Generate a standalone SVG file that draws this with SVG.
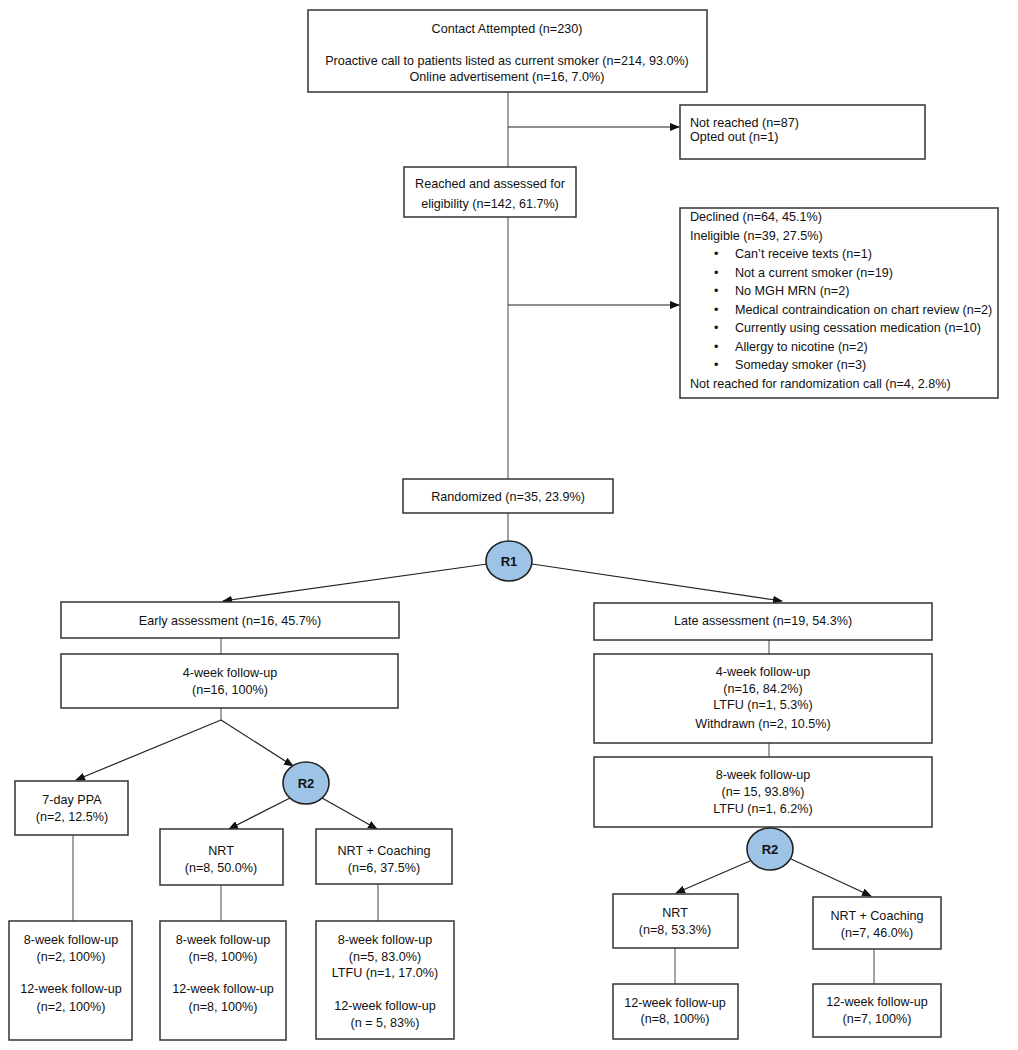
<svg xmlns="http://www.w3.org/2000/svg" width="1018" height="1050" viewBox="0 0 1018 1050">
<defs>
<marker id="arr" markerWidth="10" markerHeight="8" refX="9" refY="4" orient="auto" markerUnits="userSpaceOnUse">
<path d="M0,0 L10,4 L0,8 Z" fill="#111"/>
</marker>
<style>
.box{fill:#fff;stroke:#333;stroke-width:1.5}
.rnd{fill:#9dc3e6;stroke:#222;stroke-width:1.6}
.t{font-family:"Liberation Sans",Arial,sans-serif;font-size:12.6px;fill:#111}
.c{text-anchor:middle}
.b{font-family:"Liberation Sans",Arial,sans-serif;font-size:13px;font-weight:bold;fill:#111;text-anchor:middle}
.ln{stroke:#666;stroke-width:1.2;fill:none}
.ar{stroke:#222;stroke-width:1.2;fill:none;marker-end:url(#arr)}
</style>
</defs>
<rect width="1018" height="1050" fill="#fff"/>

<g id="connectors">
<line class="ln" x1="508" y1="92" x2="508" y2="167"/>
<line class="ar" x1="508" y1="127" x2="679" y2="127"/>
<line class="ln" x1="508" y1="217" x2="508" y2="479"/>
<line class="ar" x1="508" y1="305" x2="679" y2="305"/>
<line class="ln" x1="508" y1="513" x2="508" y2="541"/>
<line class="ar" x1="487" y1="564" x2="223" y2="601"/>
<line class="ar" x1="532" y1="564" x2="782" y2="601"/>
<line class="ln" x1="221" y1="638" x2="221" y2="654"/>
<line class="ln" x1="221" y1="708" x2="221" y2="720"/>
<line class="ar" x1="221" y1="720" x2="76" y2="780"/>
<line class="ar" x1="221" y1="720" x2="293" y2="766"/>
<line class="ar" x1="290" y1="798" x2="229" y2="829"/>
<line class="ar" x1="322" y1="798" x2="377" y2="829"/>
<line class="ln" x1="73" y1="835" x2="73" y2="921"/>
<line class="ln" x1="221" y1="885" x2="221" y2="921"/>
<line class="ln" x1="378" y1="884" x2="378" y2="921"/>
<line class="ln" x1="769" y1="640" x2="769" y2="654"/>
<line class="ln" x1="769" y1="743" x2="769" y2="757"/>
<line class="ln" x1="769" y1="827" x2="769" y2="829"/>
<line class="ar" x1="750" y1="861" x2="676" y2="893"/>
<line class="ar" x1="791" y1="859" x2="871" y2="896"/>
<line class="ln" x1="675" y1="948" x2="675" y2="984"/>
<line class="ln" x1="874" y1="949" x2="874" y2="984"/>
</g>

<g id="contact">
<rect class="box" x="308" y="10" width="399" height="82"/>
<text class="t c" x="507" y="33">Contact Attempted (n=230)</text>
<text class="t c" x="507" y="65">Proactive call to patients listed as current smoker (n=214, 93.0%)</text>
<text class="t c" x="507" y="81">Online advertisement (n=16, 7.0%)</text>
</g>

<g id="notreached">
<rect class="box" x="680" y="105" width="245" height="54"/>
<text class="t" x="690" y="127">Not reached (n=87)</text>
<text class="t" x="690" y="141">Opted out (n=1)</text>
</g>

<g id="reached">
<rect class="box" x="404" y="167" width="172" height="50"/>
<text class="t c" x="490" y="188">Reached and assessed for</text>
<text class="t c" x="490" y="208">eligibility (n=142, 61.7%)</text>
</g>

<g id="declined">
<rect class="box" x="680" y="208" width="318" height="190"/>
<text class="t" x="690" y="221">Declined (n=64, 45.1%)</text>
<text class="t" x="690" y="239.5">Ineligible (n=39, 27.5%)</text>
<text class="t" x="714" y="258">•</text><text class="t" x="735" y="258">Can’t receive texts (n=1)</text>
<text class="t" x="714" y="276.5">•</text><text class="t" x="735" y="276.5">Not a current smoker (n=19)</text>
<text class="t" x="714" y="295">•</text><text class="t" x="735" y="295">No MGH MRN (n=2)</text>
<text class="t" x="714" y="313.5">•</text><text class="t" x="735" y="313.5">Medical contraindication on chart review (n=2)</text>
<text class="t" x="714" y="332">•</text><text class="t" x="735" y="332">Currently using cessation medication (n=10)</text>
<text class="t" x="714" y="350.5">•</text><text class="t" x="735" y="350.5">Allergy to nicotine (n=2)</text>
<text class="t" x="714" y="369">•</text><text class="t" x="735" y="369">Someday smoker (n=3)</text>
<text class="t" x="690" y="387.5">Not reached for randomization call (n=4, 2.8%)</text>
</g>

<g id="randomized">
<rect class="box" x="403" y="479" width="210" height="34"/>
<text class="t c" x="508" y="501">Randomized (n=35, 23.9%)</text>
</g>

<g id="r1">
<ellipse class="rnd" cx="509" cy="561" rx="23" ry="20"/>
<text class="b" x="509" y="566">R1</text>
</g>

<g id="early">
<rect class="box" x="61" y="602" width="338" height="36"/>
<text class="t c" x="230" y="624.5">Early assessment (n=16, 45.7%)</text>
</g>

<g id="early4wk">
<rect class="box" x="61" y="654" width="337" height="54"/>
<text class="t c" x="230" y="676.5">4-week follow-up</text>
<text class="t c" x="230" y="693.5">(n=16, 100%)</text>
</g>

<g id="ppa">
<rect class="box" x="15" y="781" width="113" height="54"/>
<text class="t c" x="72" y="803.5">7-day PPA</text>
<text class="t c" x="72" y="820.5">(n=2, 12.5%)</text>
</g>

<g id="r2a">
<ellipse class="rnd" cx="306" cy="783" rx="23" ry="21"/>
<text class="b" x="306" y="788">R2</text>
</g>

<g id="nrtA">
<rect class="box" x="160" y="829" width="123" height="56"/>
<text class="t c" x="221" y="854.5">NRT</text>
<text class="t c" x="221" y="871.5">(n=8, 50.0%)</text>
</g>

<g id="nrtcA">
<rect class="box" x="316" y="829" width="136" height="55"/>
<text class="t c" x="384" y="854.5">NRT + Coaching</text>
<text class="t c" x="384" y="871.5">(n=6, 37.5%)</text>
</g>

<g id="fuPPA">
<rect class="box" x="9" y="921" width="123" height="119"/>
<text class="t c" x="71" y="943.5">8-week follow-up</text>
<text class="t c" x="71" y="960.5">(n=2, 100%)</text>
<text class="t c" x="71" y="992.5">12-week follow-up</text>
<text class="t c" x="71" y="1010.5">(n=2, 100%)</text>
</g>

<g id="fuNRTA">
<rect class="box" x="160" y="921" width="126" height="119"/>
<text class="t c" x="223" y="943.5">8-week follow-up</text>
<text class="t c" x="223" y="960.5">(n=8, 100%)</text>
<text class="t c" x="223" y="992.5">12-week follow-up</text>
<text class="t c" x="223" y="1010.5">(n=8, 100%)</text>
</g>

<g id="fuNRTCA">
<rect class="box" x="316" y="921" width="138" height="118"/>
<text class="t c" x="385" y="943.5">8-week follow-up</text>
<text class="t c" x="385" y="960.5">(n=5, 83.0%)</text>
<text class="t c" x="385" y="976.5">LTFU (n=1, 17.0%)</text>
<text class="t c" x="385" y="1009.5">12-week follow-up</text>
<text class="t c" x="385" y="1026.5">(n = 5, 83%)</text>
</g>

<g id="late">
<rect class="box" x="594" y="603" width="338" height="37"/>
<text class="t c" x="763" y="624.5">Late assessment (n=19, 54.3%)</text>
</g>

<g id="late4wk">
<rect class="box" x="594" y="654" width="338" height="89"/>
<text class="t c" x="763" y="675.5">4-week follow-up</text>
<text class="t c" x="763" y="692.5">(n=16, 84.2%)</text>
<text class="t c" x="763" y="708.5">LTFU (n=1, 5.3%)</text>
<text class="t c" x="763" y="727.5">Withdrawn (n=2, 10.5%)</text>
</g>

<g id="late8wk">
<rect class="box" x="594" y="757" width="338" height="70"/>
<text class="t c" x="763" y="778.5">8-week follow-up</text>
<text class="t c" x="763" y="795.5">(n= 15, 93.8%)</text>
<text class="t c" x="763" y="812.5">LTFU (n=1, 6.2%)</text>
</g>

<g id="r2b">
<ellipse class="rnd" cx="770" cy="849" rx="23" ry="21"/>
<text class="b" x="770" y="854">R2</text>
</g>

<g id="nrtB">
<rect class="box" x="613" y="894" width="125" height="54"/>
<text class="t c" x="675" y="916.5">NRT</text>
<text class="t c" x="675" y="933.5">(n=8, 53.3%)</text>
</g>

<g id="nrtcB">
<rect class="box" x="813" y="897" width="128" height="52"/>
<text class="t c" x="877" y="919.5">NRT + Coaching</text>
<text class="t c" x="877" y="936.5">(n=7, 46.0%)</text>
</g>

<g id="fuNRTB">
<rect class="box" x="613" y="984" width="125" height="55"/>
<text class="t c" x="675" y="1006.5">12-week follow-up</text>
<text class="t c" x="675" y="1022.5">(n=8, 100%)</text>
</g>

<g id="fuNRTCB">
<rect class="box" x="813" y="984" width="128" height="53"/>
<text class="t c" x="877" y="1005.5">12-week follow-up</text>
<text class="t c" x="877" y="1022.5">(n=7, 100%)</text>
</g>
</svg>
